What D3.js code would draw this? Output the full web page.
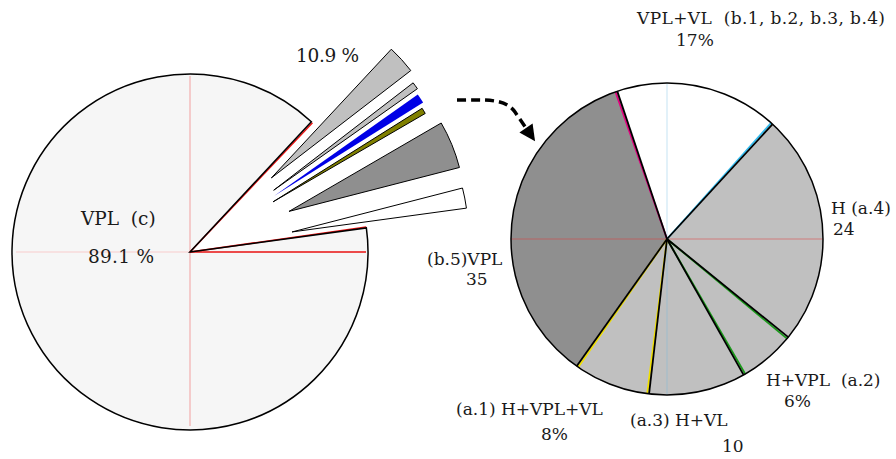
<!DOCTYPE html>
<html>
<head>
<meta charset="utf-8">
<script src="https://cdn.jsdelivr.net/npm/d3@7"></script>
<style>
    body { margin: 0; background: #fff; }
    text { font-family: "DejaVu Serif", serif; font-size: 17px; fill: #1a1a1a; }
    text.big { font-size: 18.5px; }
</style>
</head>
<body>
<div id="chart"></div>
<script>
// left pie: VPL (c) against everything else
const mainLabels = ["VPL (c)", "rest"];
const mainValues = [89.1, 10.9];
const mainValueLabels = ["89.1 %", "10.9 %"];

// the 10.9 % piece, cut into the wedges pulled out of the left pie (top to bottom)
const splitValues = [24, 6, 8, 5, 40, 17];
const splitColors = ["#c0c0c0", "#c0c0c0", "#0000e6", "#808000", "#8f8f8f", "#ffffff"];

// right pie: breakdown of the rest, clockwise from the top
const groupLabels = ["VPL+VL  (b.1, b.2, b.3, b.4)", "H (a.4)", "H+VPL  (a.2)", "(a.3) H+VL", "(a.1) H+VPL+VL", "(b.5)VPL"];
const groupValues = [17, 24, 6, 10, 8, 35];
const groupValueLabels = ["17%", "24", "6%", "10", "8%", "35"];
const groupColors = ["#ffffff", "#c0c0c0", "#c0c0c0", "#c0c0c0", "#c0c0c0", "#8f8f8f"];

const width = 896, height = 459;
const deg = Math.PI / 180;

const svg = d3.select("#chart").append("svg")
    .attr("width", width)
    .attr("height", height);

// ---------- left pie ----------
const left = {cx: 190, cy: 252, r: 178};
const gapMid = 62.6 * deg;
const gapSpan = mainValues[1] / 100 * 2 * Math.PI;
const leftStart = gapMid - gapSpan / 2;

const leftPie = d3.pie().sort(null)
    .startAngle(leftStart)
    .endAngle(leftStart + 2 * Math.PI)
    .value(d => d.value);

const leftArcs = leftPie([
    {label: mainLabels[1], value: mainValues[1]},
    {label: mainLabels[0], value: mainValues[0]}
]);
const gap = leftArcs[0], main = leftArcs[1];

const gL = svg.append("g").attr("transform", `translate(${left.cx},${left.cy})`);
const arcL = d3.arc().innerRadius(0).outerRadius(left.r);

gL.append("path")
    .attr("d", arcL(main))
    .attr("fill", "#f6f6f6");

// faint cross through the centre
gL.append("line")
    .attr("x1", 0).attr("y1", -left.r + 2).attr("x2", 0).attr("y2", left.r - 4)
    .attr("stroke", "#f2a0a0").attr("stroke-width", 1);
gL.append("line")
    .attr("x1", -left.r + 4).attr("y1", 0).attr("x2", 0).attr("y2", 0)
    .attr("stroke", "#f8cccc").attr("stroke-width", 1);
gL.append("line")
    .attr("x1", 0).attr("y1", 0).attr("x2", left.r - 2).attr("y2", 0)
    .attr("stroke", "#e81010").attr("stroke-width", 1.5);

// red tint on the edges of the cut
[gap.startAngle + 0.5 * deg, gap.endAngle - 0.3 * deg].forEach(a => {
    gL.append("line")
        .attr("x1", 0).attr("y1", 0)
        .attr("x2", left.r * Math.sin(a)).attr("y2", -left.r * Math.cos(a))
        .attr("stroke", "#ee1111").attr("stroke-width", 1.5);
});

gL.append("path")
    .attr("d", arcL(main))
    .attr("fill", "none")
    .attr("stroke", "#000")
    .attr("stroke-width", 1.5);

// pulled-out wedges
const explode = [110, 104, 101, 97, 107, 104];
const splitPie = d3.pie().sort(null)
    .startAngle(gap.startAngle)
    .endAngle(gap.endAngle);
const arcS = d3.arc().innerRadius(0).outerRadius(176);

gL.selectAll(".wedge")
    .data(splitPie(splitValues))
    .enter()
    .append("path")
    .attr("class", "wedge")
    .attr("d", arcS)
    .attr("transform", (d, i) => {
        let m = (d.startAngle + d.endAngle) / 2;
        return `translate(${explode[i] * Math.sin(m)},${-explode[i] * Math.cos(m)})`;
    })
    .attr("fill", (d, i) => splitColors[i])
    .attr("stroke", (d, i) => splitColors[i] === "#0000e6" ? "none" : "#000")
    .attr("stroke-width", 1)
    .attr("stroke-linejoin", "miter");

// labels of the left pie
svg.append("text").attr("class", "big").attr("x", 81).attr("y", 225)
    .text(mainLabels[0].replace(" ", "\u00a0\u00a0"));
svg.append("text").attr("class", "big").attr("x", 88).attr("y", 263)
    .attr("textLength", 66).text(mainValueLabels[0]);
svg.append("text").attr("class", "big").attr("x", 296).attr("y", 62)
    .attr("textLength", 63).text(mainValueLabels[1]);

// ---------- dashed arrow ----------
svg.append("defs").append("marker")
    .attr("id", "head")
    .attr("viewBox", "0 0 10 10")
    .attr("refX", 0).attr("refY", 5)
    .attr("markerUnits", "userSpaceOnUse")
    .attr("markerWidth", 18).attr("markerHeight", 16)
    .attr("orient", "auto")
    .append("path")
    .attr("d", "M0,0L10,5L0,10Z")
    .attr("fill", "#000");

svg.append("path")
    .attr("d", "M457,100 C486,100 505,98 515,112 L526,128")
    .attr("fill", "none")
    .attr("stroke", "#000")
    .attr("stroke-width", 3.5)
    .attr("stroke-dasharray", "9,5")
    .attr("marker-end", "url(#head)");

// ---------- right pie ----------
const right = {cx: 667, cy: 239, r: 156};
const rightStart = -18.6 * deg;
const rightPie = d3.pie().sort(null)
    .startAngle(rightStart)
    .endAngle(rightStart + 2 * Math.PI);
const rightArcs = rightPie(groupValues);
const arcR = d3.arc().innerRadius(0).outerRadius(right.r);

const gR = svg.append("g").attr("transform", `translate(${right.cx},${right.cy})`);

gR.selectAll(".slice")
    .data(rightArcs)
    .enter()
    .append("path")
    .attr("class", "slice")
    .attr("d", arcR)
    .attr("fill", (d, i) => groupColors[i]);

// faint cross
gR.append("line")
    .attr("x1", -right.r).attr("y1", 0).attr("x2", right.r).attr("y2", 0)
    .attr("stroke", "#e03838").attr("stroke-opacity", 0.5).attr("stroke-width", 1.2);
gR.append("line")
    .attr("x1", 0).attr("y1", -right.r).attr("x2", 0).attr("y2", right.r)
    .attr("stroke", "#70b8e0").attr("stroke-opacity", 0.4).attr("stroke-width", 1);

// coloured tint along each slice edge, then the black edges
const edgeColors = ["#e6007e", "#33bbee", "#1a9a1a", "#1a9a1a", "#f0e000", "#f0e000"];
const edgeSide = [-1, -1, 1, -1, 1, -1];

gR.selectAll(".tint")
    .data(rightArcs)
    .enter()
    .append("line")
    .attr("class", "tint")
    .attr("x1", 0).attr("y1", 0)
    .attr("x2", (d, i) => right.r * Math.sin(d.startAngle + edgeSide[i] * 0.7 * deg))
    .attr("y2", (d, i) => -right.r * Math.cos(d.startAngle + edgeSide[i] * 0.7 * deg))
    .attr("stroke", (d, i) => edgeColors[i])
    .attr("stroke-width", 1.8);

gR.selectAll(".edge")
    .data(rightArcs)
    .enter()
    .append("line")
    .attr("class", "edge")
    .attr("x1", 0).attr("y1", 0)
    .attr("x2", d => right.r * Math.sin(d.startAngle))
    .attr("y2", d => -right.r * Math.cos(d.startAngle))
    .attr("stroke", "#000")
    .attr("stroke-width", 1.8);

gR.append("circle")
    .attr("r", right.r)
    .attr("fill", "none")
    .attr("stroke", "#000")
    .attr("stroke-width", 1.5);

// labels of the right pie: [name x, name y, value x, value y]
const labelPos = [
    [637, 24, 676, 46],
    [831, 214, 833, 235],
    [766, 386, 784, 407],
    [630, 426, 722, 452],
    [456, 415, 541, 440],
    [427, 265, 466, 285]
];

groupLabels.forEach((t, i) => {
    let lab = svg.append("text")
        .attr("x", labelPos[i][0]).attr("y", labelPos[i][1])
        .style("white-space", "pre")
        .text(t);
    if (i === 0) lab.attr("textLength", 248).attr("lengthAdjust", "spacing");
    svg.append("text")
        .attr("x", labelPos[i][2]).attr("y", labelPos[i][3])
        .text(groupValueLabels[i]);
});
</script>
</body>
</html>
